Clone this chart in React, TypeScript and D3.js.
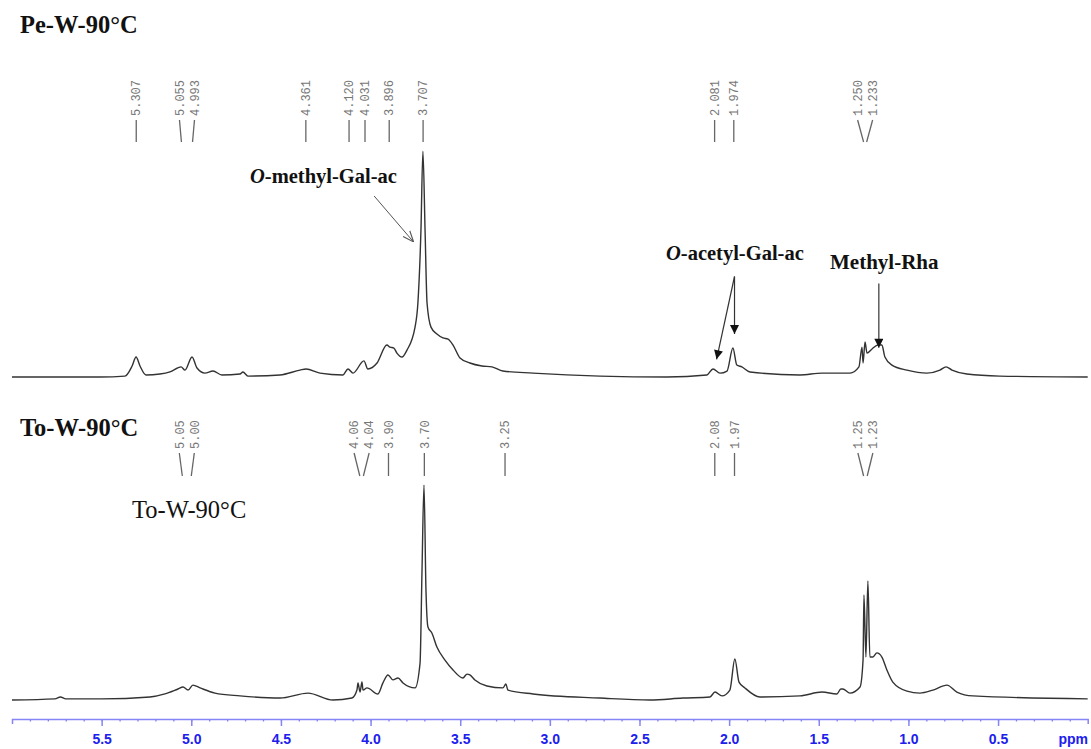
import React, { useEffect, useRef } from 'react';
import * as d3 from 'd3';

const W = 1091;
const H = 749;

// Pe-W-90°C trace, [ppm, relative intensity %]
const peTrace: [number, number][] = [
  [6.0, 1.3], [5.51, 1.3], [5.37, 1.7], [5.33, 6.1], [5.308, 10], [5.286, 6.1], [5.253, 2.2],
  [5.175, 2.6], [5.119, 3.5], [5.057, 5.7], [5.035, 4.3], [4.996, 10], [4.968, 5.2], [4.924, 3.0],
  [4.879, 3.9], [4.829, 2.2], [4.728, 2.6], [4.712, 3.5], [4.684, 1.7], [4.505, 2.2], [4.394, 4.3],
  [4.36, 4.8], [4.282, 3.0], [4.154, 2.2], [4.126, 4.8], [4.098, 3.0], [4.037, 8.3], [4.015, 4.8],
  [3.964, 7.4], [3.909, 15.2], [3.892, 14.3], [3.87, 13.9], [3.853, 11.7], [3.825, 10], [3.797, 13],
  [3.752, 23], [3.736, 33.5], [3.719, 65], [3.708, 99.5], [3.696, 65], [3.685, 33.5], [3.663, 23],
  [3.63, 20], [3.596, 18.3], [3.568, 17.8], [3.54, 15.2], [3.501, 9.6], [3.446, 7.4], [3.379, 6.1],
  [3.323, 5.7], [3.262, 3.9], [3.094, 3.0], [2.721, 1.7], [2.347, 1.3], [2.124, 2.2], [2.09, 4.8],
  [2.051, 3.0], [2.012, 3.9], [1.979, 13.9], [1.957, 6.5], [1.929, 5.7], [1.884, 3.5], [1.605, 2.2],
  [1.482, 3.0], [1.326, 3.0], [1.276, 5.7], [1.259, 14.3], [1.253, 7.4], [1.242, 16.5], [1.231, 11.7],
  [1.203, 13.5], [1.169, 15.2], [1.148, 15.2], [1.131, 10], [1.092, 6.5], [1.008, 4.3], [0.897, 3.0],
  [0.824, 4.3], [0.79, 5.7], [0.757, 4.3], [0.674, 2.6], [0.49, 1.7], [0.0, 1.3],
];

// To-W-90°C trace
const toTrace: [number, number][] = [
  [6.0, 0], [5.76, 0.5], [5.73, 1.4], [5.7, 0.5], [5.5, 0.5], [5.23, 1.4], [5.147, 2.8],
  [5.074, 5.1], [5.046, 6.0], [5.018, 4.6], [4.991, 6.9], [4.951, 5.6], [4.868, 3.2], [4.728, 1.9],
  [4.505, 0.9], [4.349, 3.2], [4.21, 0], [4.104, 0.9], [4.076, 4.6], [4.07, 7.9], [4.059, 3.7],
  [4.048, 8.3], [4.042, 4.6], [4.02, 5.6], [3.959, 2.8], [3.931, 7.9], [3.903, 11.6], [3.875, 9.3],
  [3.847, 10.2], [3.819, 7.9], [3.752, 5.6], [3.724, 17.1], [3.713, 60.2], [3.702, 99.5],
  [3.691, 50.9], [3.68, 33.8], [3.658, 31], [3.63, 24.5], [3.585, 18.5], [3.54, 13.9], [3.485, 10.2],
  [3.462, 12], [3.446, 11.6], [3.418, 9.3], [3.351, 6.5], [3.262, 5.6], [3.245, 7.4], [3.234, 4.6],
  [3.094, 2.8], [2.721, 0.9], [2.442, 0], [2.258, 0.9], [2.107, 1.4], [2.079, 3.7], [2.04, 1.9],
  [1.996, 4.6], [1.968, 19], [1.945, 8.3], [1.912, 5.6], [1.828, 1.4], [1.605, 1.9], [1.482, 3.7],
  [1.399, 2.8], [1.377, 5.1], [1.366, 5.1], [1.326, 3.2], [1.27, 6.0], [1.253, 18.5], [1.248, 48.6],
  [1.237, 19.9], [1.226, 55.1], [1.215, 19.9], [1.198, 19.9], [1.176, 21.8], [1.148, 19.9],
  [1.12, 13.9], [1.087, 8.3], [1.008, 4.1], [0.936, 3.2], [0.863, 4.6], [0.785, 6.9], [0.73, 3.7],
  [0.64, 1.9], [0.0, 0.5],
];

const pePeaks = [5.307, 5.055, 4.993, 4.361, 4.12, 4.031, 3.896, 3.707, 2.081, 1.974, 1.25, 1.233];
const toPeaks = [5.05, 5.0, 4.06, 4.04, 3.9, 3.7, 3.25, 2.08, 1.97, 1.25, 1.23];

const axisTicks = [5.5, 5.0, 4.5, 4.0, 3.5, 3.0, 2.5, 2.0, 1.5, 1.0, 0.5];

// push labels of close peaks apart
function spread(xs: number[], gap: number) {
  const out = xs.slice();
  let i = 0;
  while (i < xs.length) {
    let j = i;
    while (j + 1 < xs.length && Math.abs(xs[j + 1] - xs[j]) < gap) j++;
    const n = j - i + 1;
    if (n > 1) {
      const mid = d3.mean(xs.slice(i, j + 1)) as number;
      for (let k = i; k <= j; k++) out[k] = mid + (k - i - (n - 1) / 2) * gap;
    }
    i = j + 1;
  }
  return out;
}

const App = () => {
  const svgRef = useRef<SVGSVGElement>(null);

  useEffect(() => {
    const svg = d3.select(svgRef.current);
    svg.selectAll('*').remove();

    const x = d3.scaleLinear().domain([6.0, 0]).range([12, 1087.7]);
    const yTop = d3.scaleLinear().domain([0, 100]).range([380, 150]);
    const yBot = d3.scaleLinear().domain([0, 100]).range([700, 484]);

    const defs = svg.append('defs');
    defs.append('marker')
      .attr('id', 'open').attr('viewBox', '0 0 10 10').attr('refX', 10).attr('refY', 5)
      .attr('markerWidth', 11).attr('markerHeight', 11).attr('markerUnits', 'userSpaceOnUse')
      .attr('orient', 'auto')
      .append('path').attr('d', 'M0,1 L10,5 L0,9').attr('fill', 'none').attr('stroke', '#555').attr('stroke-width', 1);
    defs.append('marker')
      .attr('id', 'solid').attr('viewBox', '0 0 10 10').attr('refX', 10).attr('refY', 5)
      .attr('markerWidth', 10).attr('markerHeight', 9).attr('markerUnits', 'userSpaceOnUse')
      .attr('orient', 'auto')
      .append('path').attr('d', 'M0,0 L10,5 L0,10 Z').attr('fill', '#111');

    const serif = '"Liberation Serif", "Times New Roman", serif';

    // titles
    svg.append('text').attr('x', 20).attr('y', 33).text('Pe-W-90°C')
      .style('font-family', serif).style('font-weight', 'bold').style('font-size', '24.5px').style('fill', '#111');
    svg.append('text').attr('x', 20).attr('y', 436).text('To-W-90°C')
      .style('font-family', serif).style('font-weight', 'bold').style('font-size', '24.5px').style('fill', '#111');
    svg.append('text').attr('x', 132).attr('y', 518).text('To-W-90°C')
      .style('font-family', serif).style('font-size', '24.5px').style('fill', '#111');

    const line = d3.line<[number, number]>().x(d => x(d[0])).curve(d3.curveMonotoneX);

    const panels = [
      { trace: peTrace, peaks: pePeaks, y: yTop, digits: 3, textBottom: 116, l0: 120, l1: 142 },
      { trace: toTrace, peaks: toPeaks, y: yBot, digits: 2, textBottom: 449, l0: 453, l1: 476 },
    ];

    panels.forEach(p => {
      svg.append('path')
        .datum(p.trace)
        .attr('fill', 'none')
        .attr('stroke', '#333')
        .attr('stroke-width', 1.4)
        .attr('stroke-linejoin', 'round')
        .attr('d', line.y(d => p.y(d[1]))(p.trace));

      const px = p.peaks.map(v => x(v));
      const lx = spread(px, 15);
      const g = svg.append('g');
      p.peaks.forEach((v, i) => {
        g.append('line')
          .attr('x1', lx[i]).attr('y1', p.l0)
          .attr('x2', px[i]).attr('y2', p.l1)
          .attr('stroke', '#666').attr('stroke-width', 1.3);
        g.append('text')
          .attr('transform', `translate(${lx[i]}, ${p.textBottom}) rotate(-90)`)
          .attr('dy', '0.35em')
          .text(v.toFixed(p.digits))
          .style('font-family', '"Liberation Mono", "DejaVu Sans Mono", monospace')
          .style('font-size', '12px')
          .style('fill', '#777');
      });
    });

    // annotations
    const methyl = svg.append('text').attr('x', 250).attr('y', 183)
      .style('font-family', serif).style('font-weight', 'bold').style('font-size', '20.5px').style('fill', '#111');
    methyl.append('tspan').style('font-style', 'italic').text('O');
    methyl.append('tspan').text('-methyl-Gal-ac');

    const acetyl = svg.append('text').attr('x', 666).attr('y', 260)
      .style('font-family', serif).style('font-weight', 'bold').style('font-size', '20.5px').style('fill', '#111');
    acetyl.append('tspan').style('font-style', 'italic').text('O');
    acetyl.append('tspan').text('-acetyl-Gal-ac');

    svg.append('text').attr('x', 830).attr('y', 269).text('Methyl-Rha')
      .style('font-family', serif).style('font-weight', 'bold').style('font-size', '21px').style('fill', '#111');

    svg.append('line')
      .attr('x1', x(3.98)).attr('y1', yTop(80)).attr('x2', x(3.76)).attr('y2', yTop(60))
      .attr('stroke', '#555').attr('stroke-width', 1).attr('marker-end', 'url(#open)');
    svg.append('line')
      .attr('x1', x(1.97)).attr('y1', yTop(45)).attr('x2', x(1.97)).attr('y2', yTop(20))
      .attr('stroke', '#333').attr('stroke-width', 1.2).attr('marker-end', 'url(#solid)');
    svg.append('line')
      .attr('x1', x(1.97)).attr('y1', yTop(45)).attr('x2', x(2.07)).attr('y2', yTop(9))
      .attr('stroke', '#333').attr('stroke-width', 1.2).attr('marker-end', 'url(#solid)');
    svg.append('line')
      .attr('x1', x(1.165)).attr('y1', yTop(42)).attr('x2', x(1.165)).attr('y2', yTop(14))
      .attr('stroke', '#333').attr('stroke-width', 1.2).attr('marker-end', 'url(#solid)');

    // ppm axis
    const axisY = 719;
    const minor = svg.append('g')
      .attr('transform', `translate(0, ${axisY})`)
      .call(d3.axisBottom(x).tickValues(d3.range(1, 60).map(i => i / 10)).tickSize(2.5).tickSizeOuter(0).tickFormat(() => ''));
    minor.select('.domain').remove();
    minor.selectAll('line').attr('stroke', '#7f7ff5').attr('stroke-width', 1.3);

    const major = svg.append('g')
      .attr('transform', `translate(0, ${axisY})`)
      .call(d3.axisBottom(x).tickValues(axisTicks).tickSize(7).tickSizeOuter(5).tickPadding(8).tickFormat(d3.format('.1f')));
    major.select('.domain').attr('stroke', '#8585f7').attr('stroke-width', 1.5);
    major.selectAll('line').attr('stroke', '#8585f7').attr('stroke-width', 1.5);
    major.selectAll('text')
      .style('font-family', '"Liberation Sans", Arial, sans-serif')
      .style('font-weight', 'bold')
      .style('font-size', '14px')
      .style('fill', '#2020ee');

    svg.append('text')
      .attr('x', 1088).attr('y', 744)
      .attr('text-anchor', 'end')
      .text('ppm')
      .style('font-family', '"Liberation Sans", Arial, sans-serif')
      .style('font-weight', 'bold')
      .style('font-size', '14px')
      .style('fill', '#2020ee');
  }, []);

  return (
    <svg
      ref={svgRef}
      width={W}
      height={H}
      style={{ position: 'absolute', left: 0, top: 0, background: '#fff' }}
    />
  );
};

export default App;
